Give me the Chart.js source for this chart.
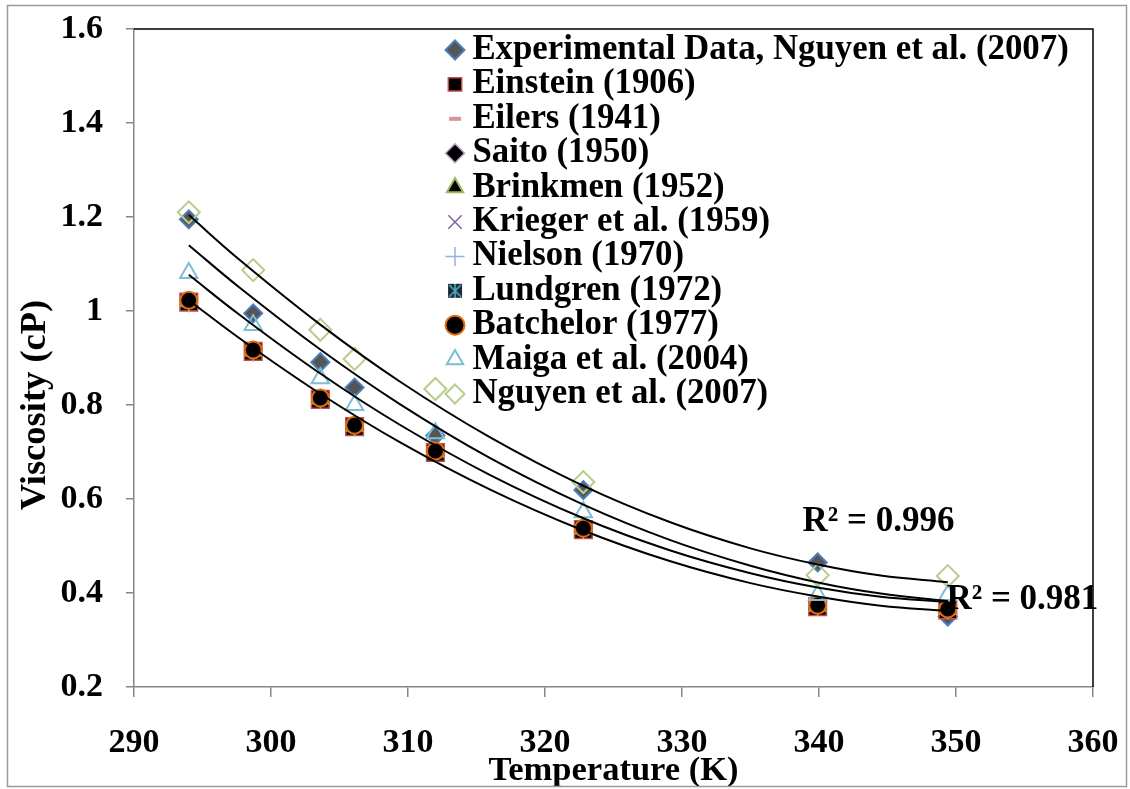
<!DOCTYPE html>
<html>
<head>
<meta charset="utf-8">
<title>Viscosity vs temperature</title>
<script src="https://cdn.jsdelivr.net/npm/chart.js@4.4.0/dist/chart.umd.min.js"></script>
<style>
    html, body { margin: 0; padding: 0; background: #fff; }
    #wrap { width: 1130px; height: 789px; }
</style>
</head>
<body>
<div id="wrap"><canvas id="viscosityChart" width="1130" height="789"></canvas></div>
<script>
// temperatures (K) of the measured points
const temperatures = [294.0, 298.7, 303.6, 306.1, 312.0, 322.8, 339.9, 349.4];

// viscosity (cP) for each model / data set
const experimental = [1.195, 0.995, 0.891, 0.837, 0.735, 0.619, 0.465, 0.350];
const einstein = [1.019, 0.914, 0.812, 0.754, 0.699, 0.535, 0.371, 0.364];
const eilers = [1.025, 0.919, 0.817, 0.759, 0.704, 0.540, 0.375, 0.368];
const saito = [1.022, 0.916, 0.814, 0.756, 0.701, 0.537, 0.373, 0.366];
const brinkman = [1.020, 0.915, 0.813, 0.755, 0.700, 0.536, 0.372, 0.365];
const krieger = [1.024, 0.918, 0.816, 0.758, 0.703, 0.539, 0.374, 0.367];
const nielson = [1.016, 0.911, 0.810, 0.752, 0.697, 0.534, 0.370, 0.363];
const lundgren = [1.021, 0.916, 0.814, 0.756, 0.701, 0.537, 0.373, 0.366];
const batchelor = [1.023, 0.917, 0.815, 0.757, 0.702, 0.538, 0.374, 0.366];
const maiga = [1.081, 0.970, 0.857, 0.800, 0.740, 0.572, 0.396, 0.396];
const nguyen = [1.210, 1.087, 0.960, 0.898, 0.834, 0.636, 0.438, 0.436];

// 2nd order trendlines, sampled along each curve
const trendTemps = [294.0, 297.7, 303.6, 309.4, 316.0, 322.8, 329.1, 335.0, 340.0, 344.5, 349.4];
const trendNguyen = [1.204, 1.109, 0.971, 0.850, 0.731, 0.628, 0.551, 0.495, 0.460, 0.437, 0.423];
const trendExperimental = [1.140, 1.050, 0.918, 0.802, 0.687, 0.588, 0.513, 0.458, 0.422, 0.399, 0.383];
const trendMaiga = [1.077, 0.992, 0.867, 0.758, 0.651, 0.559, 0.491, 0.442, 0.411, 0.392, 0.381];
const trendBatchelor = [1.023, 0.942, 0.824, 0.721, 0.620, 0.533, 0.468, 0.421, 0.392, 0.373, 0.362];

// axis ticks
const tempTicks = [290, 300, 310, 320, 330, 340, 350, 360];
const tempTickLabels = ["290", "300", "310", "320", "330", "340", "350", "360"];
const viscTicks = [0.2, 0.4, 0.6, 0.8, 1.0, 1.2, 1.4, 1.6];
const viscTickLabels = ["0.2", "0.4", "0.6", "0.8", "1", "1.2", "1.4", "1.6"];

const rSquaredTexts = ["R² = 0.996", "R² = 0.981"];
const rSquaredAnchors = [{ x: 338.8, y: 0.551 }, { x: 349.3, y: 0.385 }];

const FONT = "'Liberation Serif', 'Times New Roman', serif";

function points(xs, ys) {
    return xs.map((x, i) => ({ x: x, y: ys[i] }));
}

// short pink dash marker
function dashMarker() {
    const c = document.createElement("canvas");
    c.width = 14;
    c.height = 6;
    const g = c.getContext("2d");
    g.fillStyle = "#d99694";
    g.fillRect(1, 1, 12, 4);
    return c;
}

// dark square with a teal star on it
function starSquareMarker() {
    const c = document.createElement("canvas");
    c.width = 18;
    c.height = 18;
    const g = c.getContext("2d");
    g.fillStyle = "#1b2a36";
    g.fillRect(2, 2, 14, 14);
    g.strokeStyle = "#4bacc6";
    g.lineWidth = 1.6;
    g.beginPath();
    g.moveTo(3, 3); g.lineTo(15, 15);
    g.moveTo(15, 3); g.lineTo(3, 15);
    g.moveTo(9, 2); g.lineTo(9, 16);
    g.stroke();
    return c;
}

function markers(label, values, order, style) {
    return Object.assign({
        label: label,
        data: points(temperatures, values),
        showLine: false,
        order: order
    }, style);
}

function trend(values) {
    return {
        label: "trend",
        data: points(trendTemps, values),
        showLine: true,
        borderColor: "#000",
        borderWidth: 2,
        pointRadius: 0,
        tension: 0.4,
        order: 0
    };
}

const datasets = [
    markers("Experimental Data, Nguyen et al. (2007)", experimental, 11, {
        pointStyle: "rectRot", pointRadius: 9,
        pointBackgroundColor: "#555555", pointBorderColor: "#4a7ebb", pointBorderWidth: 2
    }),
    markers("Einstein (1906)", einstein, 10, {
        pointStyle: "rect", pointRadius: 12.5,
        pointBackgroundColor: "#000", pointBorderColor: "#c0504d", pointBorderWidth: 1.5
    }),
    markers("Eilers (1941)", eilers, 9, {
        pointStyle: dashMarker()
    }),
    markers("Saito (1950)", saito, 8, {
        pointStyle: "rectRot", pointRadius: 8,
        pointBackgroundColor: "#000", pointBorderColor: "#b3a2c7", pointBorderWidth: 1.5
    }),
    markers("Brinkmen (1952)", brinkman, 7, {
        pointStyle: "triangle", pointRadius: 9,
        pointBackgroundColor: "#000", pointBorderColor: "#9bbb59", pointBorderWidth: 2
    }),
    markers("Krieger et al. (1959)", krieger, 6, {
        pointStyle: "crossRot", pointRadius: 8,
        pointBackgroundColor: "transparent", pointBorderColor: "#8064a2", pointBorderWidth: 1.5
    }),
    markers("Nielson (1970)", nielson, 5, {
        pointStyle: "cross", pointRadius: 9,
        pointBackgroundColor: "transparent", pointBorderColor: "#95b3d7", pointBorderWidth: 1.5
    }),
    markers("Lundgren (1972)", lundgren, 4, {
        pointStyle: starSquareMarker()
    }),
    markers("Batchelor (1977)", batchelor, 3, {
        pointStyle: "circle", pointRadius: 8.5,
        pointBackgroundColor: "#000", pointBorderColor: "#e46c0a", pointBorderWidth: 2
    }),
    markers("Maiga et al. (2004)", maiga, 2, {
        pointStyle: "triangle", pointRadius: 10,
        pointBackgroundColor: "transparent", pointBorderColor: "#7fbcd6", pointBorderWidth: 2
    }),
    markers("Nguyen et al. (2007)", nguyen, 1, {
        pointStyle: "rectRot", pointRadius: 11,
        pointBackgroundColor: "transparent", pointBorderColor: "#b7cc8d", pointBorderWidth: 2
    }),
    trend(trendNguyen),
    trend(trendExperimental),
    trend(trendMaiga),
    trend(trendBatchelor)
];

// legend sits inside the plot, near the top right; drawn without its own clip
const legendPlacer = {
    id: "legendPlacer",
    afterLayout(chart) {
        const lg = chart.legend;
        const area = chart.chartArea;
        lg.left = area.left + 321.4;
        lg.top = area.top + 4;
        lg.right = lg.left + lg.width;
        lg.bottom = area.bottom;
        lg.draw = function () { this._draw(); };
    }
};

// frame, plot border, y title and R² notes
const decorations = {
    id: "decorations",
    afterDraw(chart) {
        const ctx = chart.ctx;
        const area = chart.chartArea;
        const xs = chart.scales.x;
        const ys = chart.scales.y;
        ctx.save();

        ctx.strokeStyle = "#000";
        ctx.lineWidth = 1.5;
        ctx.beginPath();
        ctx.moveTo(area.left, area.top);
        ctx.lineTo(area.right, area.top);
        ctx.lineTo(area.right, area.bottom);
        ctx.stroke();

        ctx.strokeStyle = "#9a9a9a";
        ctx.lineWidth = 1.5;
        ctx.strokeRect(7.5, 5.5, 1119, 781);

        ctx.fillStyle = "#000";
        ctx.font = "bold 36.5px " + FONT;
        ctx.textAlign = "center";
        ctx.textBaseline = "middle";
        ctx.translate(36, 405);
        ctx.rotate(-Math.PI / 2);
        ctx.fillText("Viscosity (cP)", 0, 0);
        ctx.setTransform(1, 0, 0, 1, 0, 0);

        ctx.font = "bold 35px " + FONT;
        ctx.textAlign = "left";
        rSquaredTexts.forEach((txt, i) => {
            const a = rSquaredAnchors[i];
            ctx.fillText(txt, xs.getPixelForValue(a.x), ys.getPixelForValue(a.y));
        });
        ctx.restore();
    }
};

const ctx = document.getElementById("viscosityChart").getContext("2d");

new Chart(ctx, {
    type: "scatter",
    data: { datasets: datasets },
    options: {
        responsive: false,
        animation: false,
        devicePixelRatio: 1,
        layout: { padding: { top: 29, right: 37, left: 0, bottom: 0 } },
        plugins: {
            tooltip: { enabled: false },
            legend: {
                position: "chartArea",
                align: "start",
                labels: {
                    usePointStyle: true,
                    boxWidth: 0.01,
                    boxHeight: 13.4,
                    padding: -0.4,
                    color: "#000",
                    font: { family: FONT, size: 34.8, weight: "bold" },
                    filter: (item) => item.text !== "trend",
                    sort: (a, b) => a.datasetIndex - b.datasetIndex
                }
            }
        },
        scales: {
            x: {
                type: "linear",
                min: 290,
                max: 360,
                afterBuildTicks: (scale) => { scale.ticks = tempTicks.map((v) => ({ value: v })); },
                afterFit: (scale) => {
                    scale.height = 102;
                    scale.paddingLeft = 0;
                    scale.paddingRight = 0;
                },
                ticks: {
                    callback: (v, i) => tempTickLabels[i],
                    color: "#000",
                    padding: 26,
                    maxRotation: 0,
                    font: { family: FONT, size: 34, weight: "bold" }
                },
                grid: { drawOnChartArea: false, tickLength: 10, color: "#868686", lineWidth: 1.5 },
                border: { color: "#868686", width: 1.5 },
                title: {
                    display: true,
                    text: "Temperature (K)",
                    color: "#000",
                    padding: { top: 0, bottom: -3 },
                    font: { family: FONT, size: 34.5, weight: "bold" }
                }
            },
            y: {
                type: "linear",
                min: 0.2,
                max: 1.6,
                afterBuildTicks: (scale) => { scale.ticks = viscTicks.map((v) => ({ value: v })); },
                afterFit: (scale) => {
                    scale.width = 134;
                    scale.paddingTop = 0;
                    scale.paddingBottom = 0;
                },
                ticks: {
                    callback: (v, i) => viscTickLabels[i],
                    color: "#000",
                    padding: 23,
                    font: { family: FONT, size: 34, weight: "bold" }
                },
                grid: { drawOnChartArea: false, tickLength: 8, color: "#868686", lineWidth: 1.5 },
                border: { color: "#868686", width: 1.5 }
            }
        }
    },
    plugins: [legendPlacer, decorations]
});
</script>
</body>
</html>
